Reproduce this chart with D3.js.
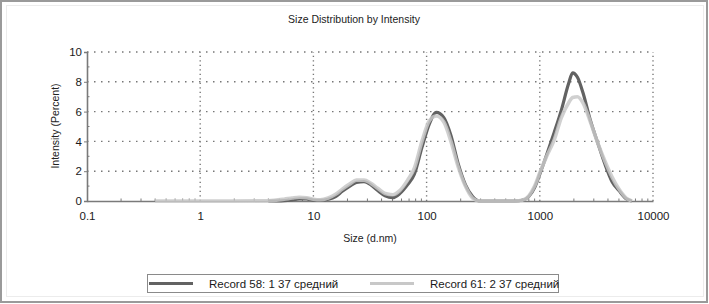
<!DOCTYPE html>
<html>
<head>
<meta charset="utf-8">
<script src="https://cdn.jsdelivr.net/npm/d3@7"></script>
<style>
  body { margin: 0; background: #fff; }
  svg { display: block; font-family: "Liberation Sans", Arial, sans-serif; }
</style>
</head>
<body>
<svg id="chart" width="709" height="304"></svg>
<script>
// sizes (d.nm) and intensities (%)
let sizes = [0.4, 1, 2, 4, 5.5, 6.5, 7.5, 8.7, 10, 11.5, 13.5, 15.7, 18, 21, 24, 28, 32, 37, 43,
  50, 58, 68, 78, 91, 106, 122, 142, 164, 190, 220, 255, 295, 340, 400, 500, 600, 700, 800, 900,
  1000, 1150, 1340, 1550, 1800, 1950, 2150, 2400, 2800, 3250, 3750, 4350, 5000, 5800, 6500];

let record58 = [null, null, null, 0, 0.03, 0.08, 0.14, 0.14, 0.06, 0.04, 0.12, 0.3, 0.65, 1.0,
  1.25, 1.3, 1.1, 0.7, 0.35, 0.22, 0.5, 1.1, 1.8, 3.6, 5.2, 5.95, 5.6, 4.4, 2.5, 1.1, 0.3, 0, 0, 0,
  0, 0, 0.05, 0.3, 0.9, 1.8, 3.1, 4.6, 6.1, 7.9, 8.6, 8.3, 7.3, 5.4, 3.9, 2.5, 1.3, 0.7, 0.15, 0];

let record61 = [0, 0, 0, 0.02, 0.12, 0.2, 0.25, 0.22, 0.12, 0.08, 0.2, 0.45, 0.8, 1.15,
  1.4, 1.4, 1.2, 0.85, 0.5, 0.42, 0.7, 1.4, 2.2, 4.0, 5.4, 5.7, 5.3, 4.0, 2.3, 1.0, 0.2, 0, 0, 0,
  0, 0, 0.05, 0.35, 1.0, 1.9, 3.0, 4.1, 5.6, 6.6, 6.95, 7.0, 6.6, 5.3, 3.9, 2.7, 1.6, 0.8, 0.2, 0];

let xTicks = [0.1, 1, 10, 100, 1000, 10000];
let xTickLabels = ["0.1", "1", "10", "100", "1000", "10000"];
let yTicks = [0, 2, 4, 6, 8, 10];
let yMinor = [1, 3, 5, 7, 9];
let legendLabels = ["Record 58: 1 37 средний", "Record 61: 2 37 средний"];
let seriesColors = ["#626262", "#c8c8c8"];

let svg = d3.select("#chart");

// frame
svg.append("rect").attr("x", 1).attr("y", 1).attr("width", 706).attr("height", 301)
  .attr("fill", "none").attr("stroke", "#9a9a9a").attr("stroke-width", 2);
svg.append("rect").attr("x", 6.5).attr("y", 5.5).attr("width", 697).attr("height", 291)
  .attr("fill", "none").attr("stroke", "#ececec").attr("stroke-width", 1);

let x = d3.scaleLog().domain([0.1, 10000]).range([87, 653]);
let y = d3.scaleLinear().domain([0, 10]).range([201, 52]);

let plot = svg.append("g").attr("class", "plot");

// grid
plot.selectAll(".hgrid").data(yTicks.slice(1)).enter().append("line")
  .attr("class", "hgrid")
  .attr("x1", x(0.1)).attr("x2", x(10000))
  .attr("y1", d => y(d)).attr("y2", d => y(d))
  .attr("stroke", "#777").attr("stroke-width", 1.4).attr("stroke-dasharray", "1.5,5.5");

plot.selectAll(".vgrid").data(xTicks.slice(1)).enter().append("line")
  .attr("class", "vgrid")
  .attr("x1", d => x(d)).attr("x2", d => x(d))
  .attr("y1", y(0)).attr("y2", y(10))
  .attr("stroke", "#777").attr("stroke-width", 1.4).attr("stroke-dasharray", "1.2,3.3");

// axes
let xAxis = d3.axisBottom(x).tickValues(xTicks).tickFormat((d, i) => xTickLabels[i]).tickSize(0).tickPadding(11);
let gx = plot.append("g").attr("transform", "translate(0," + y(0) + ")").call(xAxis);
gx.select(".domain").attr("stroke", "#7a7a7a").attr("stroke-width", 1.6);
gx.selectAll("text").attr("font-size", 11.5).attr("fill", "#1a1a1a")
  .attr("font-family", "Liberation Sans, Arial, sans-serif");

let minorX = [];
xTicks.slice(0, -1).forEach(t => { for (let k = 2; k <= 9; k++) minorX.push(t * k); });
plot.selectAll(".xminor").data(minorX).enter().append("line")
  .attr("x1", d => x(d)).attr("x2", d => x(d))
  .attr("y1", y(0)).attr("y2", y(0) - 2.5)
  .attr("stroke", "#7a7a7a");

let yAxis = d3.axisLeft(y).tickValues(yTicks).tickSize(3).tickPadding(2);
let gy = plot.append("g").attr("transform", "translate(" + x(0.1) + ",0)").call(yAxis);
gy.select(".domain").attr("stroke", "#7a7a7a").attr("stroke-width", 1.6);
gy.selectAll(".tick line").attr("stroke", "#7a7a7a");
gy.selectAll("text").attr("font-size", 11.5).attr("fill", "#1a1a1a")
  .attr("font-family", "Liberation Sans, Arial, sans-serif");

plot.selectAll(".yminor").data(yMinor).enter().append("line")
  .attr("x1", x(0.1)).attr("x2", x(0.1) + 2.5)
  .attr("y1", d => y(d)).attr("y2", d => y(d))
  .attr("stroke", "#7a7a7a");

// curves
let line = d3.line()
  .defined(d => d[1] !== null)
  .x(d => x(d[0])).y(d => y(d[1]))
  .curve(d3.curveMonotoneX);

plot.append("path").datum(sizes.map((s, i) => [s, record58[i]]))
  .attr("d", line).attr("fill", "none")
  .attr("stroke", seriesColors[0]).attr("stroke-width", 3.2).attr("stroke-linejoin", "round");

plot.append("path").datum(sizes.map((s, i) => [s, record61[i]]))
  .attr("d", line).attr("fill", "none")
  .attr("stroke", seriesColors[1]).attr("stroke-width", 3.6).attr("stroke-opacity", 0.85)
  .attr("stroke-linejoin", "round");

// titles
svg.append("text").attr("x", 354).attr("y", 23).attr("text-anchor", "middle")
  .attr("font-size", 10.5).attr("fill", "#222").text("Size Distribution by Intensity");
svg.append("text").attr("x", 370).attr("y", 242).attr("text-anchor", "middle")
  .attr("font-size", 10.5).attr("fill", "#222").text("Size (d.nm)");
svg.append("text").attr("transform", "translate(59,126) rotate(-90)").attr("text-anchor", "middle")
  .attr("font-size", 10.5).attr("fill", "#222").text("Intensity (Percent)");

// legend
let legend = svg.append("g").attr("class", "legend");
legend.append("rect").attr("x", 147.5).attr("y", 274.5).attr("width", 411).attr("height", 18)
  .attr("fill", "#fff").attr("stroke", "#8a8a8a");

let legendX = [148, 369];
let item = legend.selectAll(".item").data(legendLabels).enter().append("g")
  .attr("class", "item")
  .attr("transform", (d, i) => "translate(" + legendX[i] + ",283.5)");
item.append("line").attr("x1", 1).attr("x2", 45)
  .attr("stroke", (d, i) => seriesColors[i]).attr("stroke-width", 3.2);
item.append("text").attr("x", 61).attr("y", 4).attr("font-size", 11.5).attr("fill", "#1a1a1a")
  .text(d => d);
</script>
</body>
</html>
